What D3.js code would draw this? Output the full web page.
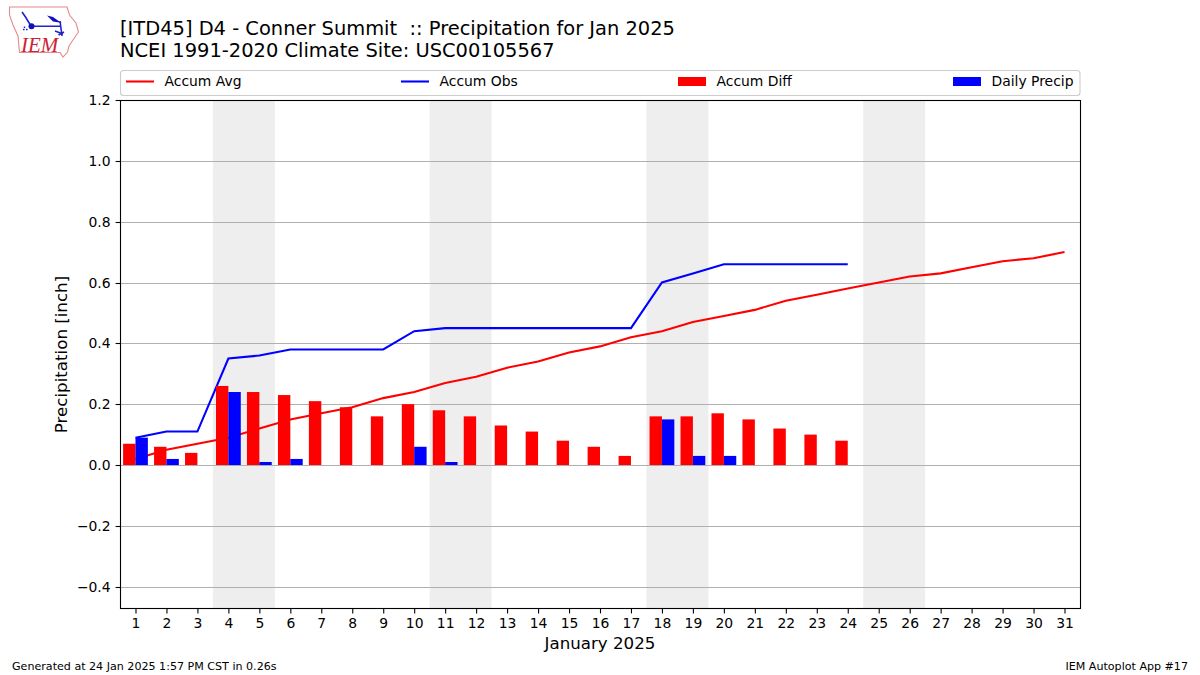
<!DOCTYPE html>
<html><head><meta charset="utf-8">
<script src="https://cdn.jsdelivr.net/npm/d3@7"></script>
<style>
html,body{margin:0;padding:0;background:#fff}
svg{display:block}
text{font-family:"DejaVu Sans",sans-serif;fill:#000}
</style></head><body>
<svg id="c" width="1200" height="675"></svg>
<script>
const days = d3.range(1, 32);
const accumAvg = [.02,.05,.07,.09,.12,.15,.17,.19,.22,.24,.27,.29,.32,.34,.37,.39,.42,.44,.47,.49,.51,.54,.56,.58,.60,.62,.63,.65,.67,.68,.70];
const accumObs = [.09,.11,.11,.35,.36,.38,.38,.38,.38,.44,.45,.45,.45,.45,.45,.45,.45,.60,.63,.66,.66,.66,.66,.66];
const accumDiff = [.07,.06,.04,.26,.24,.23,.21,.19,.16,.20,.18,.16,.13,.11,.08,.06,.03,.16,.16,.17,.15,.12,.10,.08];
const dailyPrecip = [.09,.02,0,.24,.01,.02,0,0,0,.06,.01,0,0,0,0,0,0,.15,.03,.03,0,0,0,0];
const weekends = [[3.5,5.5],[10.5,12.5],[17.5,19.5],[24.5,26.5]];
const yTicks = [-.4,-.2,0,.2,.4,.6,.8,1.0,1.2];
const legendItems = [
 {label:"Accum Avg",color:"#f00",type:"line",x:126},
 {label:"Accum Obs",color:"#00f",type:"line",x:401},
 {label:"Accum Diff",color:"#f00",type:"bar",x:678},
 {label:"Daily Precip",color:"#00f",type:"bar",x:953}];
const titleLines = ["[ITD45] D4 - Conner Summit  :: Precipitation for Jan 2025","NCEI 1991-2020 Climate Site: USC00105567"];

const L=120,R=1080,T=100,B=608;
const svg=d3.select("#c");
const x=d3.scaleLinear().domain([.5,31.5]).range([L,R]);
const y=d3.scaleLinear().domain([1.2,-.47]).range([T,B]);
const barW=x(1.4)-x(1);

svg.append("g").selectAll("rect").data(weekends).join("rect")
 .attr("x",d=>x(d[0])).attr("width",d=>x(d[1])-x(d[0]))
 .attr("y",T).attr("height",B-T).attr("fill","#eeeeee");
svg.append("g").selectAll("line").data(yTicks).join("line")
 .attr("x1",L).attr("x2",R).attr("y1",d=>Math.round(y(d))+.5).attr("y2",d=>Math.round(y(d))+.5)
 .attr("stroke","#b0b0b0").attr("stroke-width",1.1);
const line=d3.line().x((d,i)=>x(i+1)).y(d=>y(d));
svg.append("path").attr("d",line(accumAvg)).attr("fill","none").attr("stroke","#f00").attr("stroke-width",2.08);
svg.append("path").attr("d",line(accumObs)).attr("fill","none").attr("stroke","#00f").attr("stroke-width",2.08);
svg.append("g").selectAll("rect").data(accumDiff).join("rect")
 .attr("x",(d,i)=>x(i+1)-barW).attr("width",barW)
 .attr("y",d=>y(d)).attr("height",d=>y(0)-y(d)).attr("fill","#f00");
svg.append("g").selectAll("rect").data(dailyPrecip).join("rect")
 .attr("x",(d,i)=>x(i+1)).attr("width",barW)
 .attr("y",d=>y(d)).attr("height",d=>y(0)-y(d)).attr("fill","#00f");

svg.append("rect").attr("x",L+.5).attr("y",T+.5).attr("width",R-L).attr("height",B-T)
 .attr("fill","none").attr("stroke","#000").attr("stroke-width",1.1);
const gx=svg.append("g").attr("transform",`translate(0,${B+.5})`)
 .call(d3.axisBottom(x).tickValues(days).tickFormat(d3.format("d")).tickSize(4.9).tickPadding(4.5));
const gy=svg.append("g").attr("transform",`translate(${L+.5},0)`)
 .call(d3.axisLeft(y).tickValues(yTicks).tickFormat(d=>d3.format(".1f")(d).replace("-","\u2212")).tickSize(4.9).tickPadding(5));
[gx,gy].forEach(g=>{g.select(".domain").remove();
 g.selectAll("line").attr("stroke","#000").attr("stroke-width",1.1);
 g.selectAll("text").attr("font-size",13.9).attr("font-family",'"DejaVu Sans"');});
gy.selectAll(".tick").attr("transform",d=>`translate(0,${Math.round(y(d))+.5})`);

svg.append("text").attr("x",600).attr("y",649).attr("text-anchor","middle").attr("font-size",16.67).text("January 2025");
svg.append("text").attr("transform","translate(67,354.5) rotate(-90)").attr("text-anchor","middle").attr("font-size",16.67).text("Precipitation [inch]");
svg.selectAll(".ttl").data(titleLines).join("text").attr("class","ttl")
 .attr("x",120).attr("y",(d,i)=>35+i*22).attr("font-size",19.44).style("white-space","pre").text(d=>d);
svg.append("text").attr("x",12).attr("y",670).attr("font-size",11.1).text("Generated at 24 Jan 2025 1:57 PM CST in 0.26s");
svg.append("text").attr("x",1188).attr("y",670).attr("text-anchor","end").attr("font-size",11.1).text("IEM Autoplot App #17");

svg.append("rect").attr("x",120.5).attr("y",70.5).attr("width",959.5).attr("height",25).attr("rx",3)
 .attr("fill","#fff").attr("stroke","#ccc").attr("stroke-width",1.1);
const lg=svg.append("g").selectAll("g").data(legendItems).join("g");
lg.filter(d=>d.type==="line").append("line").attr("x1",d=>d.x).attr("x2",d=>d.x+28).attr("y1",81.5).attr("y2",81.5)
 .attr("stroke",d=>d.color).attr("stroke-width",2.08);
lg.filter(d=>d.type==="bar").append("rect").attr("x",d=>d.x).attr("width",28).attr("y",77).attr("height",9).attr("fill",d=>d.color);
lg.append("text").attr("x",d=>d.x+38.5).attr("y",86).attr("font-size",13.9).text(d=>d.label);

const logo=svg.append("g");
logo.append("path").attr("d","M9.5 7L67 7L69.5 15L76 23L78.5 32L73 40L69 46L67.5 52L63 57L60 52.5L19.5 52.5L18 36L13 25L9.5 15Z")
 .attr("fill","#fff").attr("stroke","#e58a8a").attr("stroke-width",1.1);
logo.append("path").attr("d","M31 26.3H60M22 12L25.5 17L31 26M60 21L62 36M55 31L63 34M58.5 35L64 32")
 .attr("fill","none").attr("stroke","#2222cc").attr("stroke-width",1.6);
logo.append("circle").attr("cx",31.5).attr("cy",26.3).attr("r",3).attr("fill","#1111bb");
logo.append("path").attr("d","M47 15.5L53 17L60 22L62 23L53 21.5Z").attr("fill","#1111bb");
logo.append("path").attr("d","M23 29.5h1.6M26 29.5h1.6M24.5 26.5v1.6").attr("stroke","#2222cc").attr("stroke-width",1.4).attr("fill","none");
logo.append("text").attr("x",21).attr("y",52).attr("font-size",21).attr("font-style","italic")
 .style("font-family",'"Liberation Serif",serif').style("fill","#cc2233").text("IEM");
</script>
</body></html>
